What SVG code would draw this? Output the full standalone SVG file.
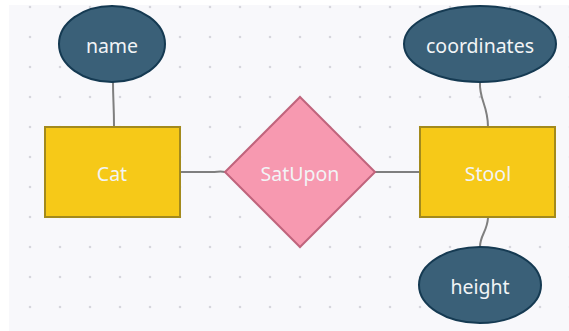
<svg xmlns="http://www.w3.org/2000/svg" width="569" height="331" viewBox="0 0 569 331">
<defs>
<pattern id="dots" x="0" y="7" width="30" height="30" patternUnits="userSpaceOnUse">
<circle cx="0" cy="0" r="1.3" fill="#d6d6dc"/>
<circle cx="30" cy="0" r="1.3" fill="#d6d6dc"/>
<circle cx="0" cy="30" r="1.3" fill="#d6d6dc"/>
<circle cx="30" cy="30" r="1.3" fill="#d6d6dc"/>
</pattern>
</defs>
<style>
.ent{fill:#f6c918;stroke:#a38a1c;stroke-width:2}
.rel{fill:#f799b0;stroke:#c0647c;stroke-width:2}
.att{fill:#3a6078;stroke:#153a52;stroke-width:2}
.lbl{font-family:"Noto Sans","Open Sans",sans-serif;font-size:19.5px;fill:#f2f4f6;text-anchor:middle;dominant-baseline:central}
.con{fill:none;stroke:#7f7f7f;stroke-width:2}
</style>
<rect x="0" y="0" width="569" height="331" fill="#ffffff"/>
<rect x="9" y="5" width="560" height="326" fill="#f8f8fb"/>
<rect x="9" y="5" width="560" height="326" fill="url(#dots)"/>
<g id="connectors">
<path class="con" d="M113,82 C113,100 114,105 114,126"/>
<path class="con" d="M180,172 L212,172 C218,172 220,171 225,172"/>
<path class="con" d="M375,172 L420,172"/>
<path class="con" d="M480,82 C479,100 488,105 488,127"/>
<path class="con" d="M488,218 C487,232 480,235 480,247"/>
</g>
<g id="name">
<ellipse class="att" cx="112" cy="44" rx="53" ry="38"/>
<text class="lbl" x="112" y="45">name</text>
</g>
<g id="coordinates">
<ellipse class="att" cx="480" cy="44" rx="76" ry="38"/>
<text class="lbl" x="480" y="45">coordinates</text>
</g>
<g id="Cat">
<rect class="ent" x="45" y="127" width="135" height="90"/>
<text class="lbl" x="112" y="173">Cat</text>
</g>
<g id="SatUpon">
<polygon class="rel" points="300,97 375,172 300,247 225,172"/>
<text class="lbl" x="300" y="173">SatUpon</text>
</g>
<g id="Stool">
<rect class="ent" x="420" y="127" width="135" height="90"/>
<text class="lbl" x="488" y="173">Stool</text>
</g>
<g id="height">
<ellipse class="att" cx="480" cy="285" rx="61" ry="38"/>
<text class="lbl" x="480" y="286">height</text>
</g>
</svg>
